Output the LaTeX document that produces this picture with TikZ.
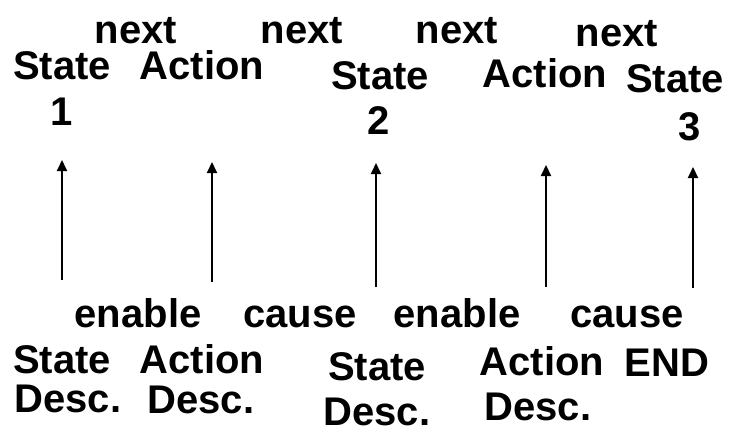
\documentclass[tikz,border=0pt]{standalone}
\usepackage{fontspec}
\setmainfont{Liberation Sans}
\usetikzlibrary{arrows.meta}
\tikzset{
  lbl/.style={inner sep=0pt, anchor=base, font=\fontsize{40}{40}\selectfont\bfseries},
  uparrow/.style={line width=2pt, -{Triangle[length=11pt,width=10pt]}}
}
\begin{document}
\begin{tikzpicture}[x=1pt,y=-1pt]
\useasboundingbox (0,0) rectangle (746,433);
% top row
\node[lbl] (n1) at (136,44) {next};
\node[lbl] (n2) at (302,44) {next};
\node[lbl] (n3) at (457,44) {next};
\node[lbl] (n4) at (617,47) {next};
\node[lbl] (s1) at (62,80) {State};
\node[lbl] (a1) at (202,80) {Action};
\node[lbl] (s2) at (380,90) {State};
\node[lbl] (a2) at (545,88) {Action};
\node[lbl] (s3) at (675,93) {State};
\node[lbl] (k1) at (62,125) {1};
\node[lbl] (k2) at (379,134) {2};
\node[lbl] (k3) at (690,140) {3};
% bottom row
\node[lbl] (e1) at (138,327) {enable};
\node[lbl] (c1) at (300,327) {cause};
\node[lbl] (e2) at (457,327) {enable};
\node[lbl] (c2) at (627,327) {cause};
\node[lbl] (bs1) at (62,373) {State};
\node[lbl] (bd1) at (68,412) {Desc.};
\node[lbl] (ba1) at (202,373) {Action};
\node[lbl] (bd2) at (201,413) {Desc.};
\node[lbl] (bs2) at (377,380) {State};
\node[lbl] (bd3) at (377,425) {Desc.};
\node[lbl] (ba2) at (542,375) {Action};
\node[lbl] (bd4) at (538,420) {Desc.};
\node[lbl] (end) at (667,376) {END};
% arrow ends
\coordinate (b1) at (62,280);  \coordinate (t1) at (62,160);
\coordinate (b2) at (212,282); \coordinate (t2) at (212,162);
\coordinate (b3) at (376,287); \coordinate (t3) at (376,163);
\coordinate (b4) at (546,287); \coordinate (t4) at (546,165);
\coordinate (b5) at (693,288); \coordinate (t5) at (693,167);
\draw[uparrow] (b1) -- (t1);
\draw[uparrow] (b2) -- (t2);
\draw[uparrow] (b3) -- (t3);
\draw[uparrow] (b4) -- (t4);
\draw[uparrow] (b5) -- (t5);
\end{tikzpicture}
\end{document}
